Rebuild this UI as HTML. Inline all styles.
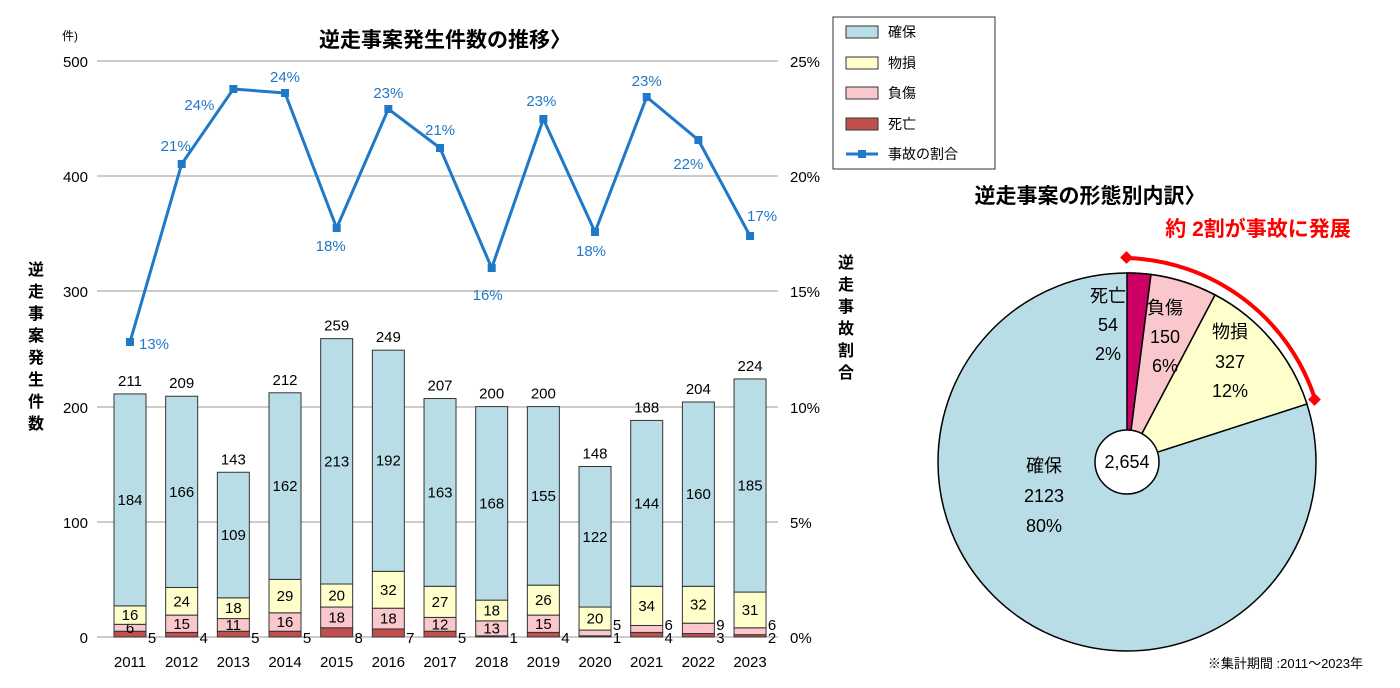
<!DOCTYPE html>
<html><head><meta charset="utf-8"><style>
html,body{margin:0;padding:0;background:#fff;}
svg{display:block;font-family:"Liberation Sans","Noto Sans CJK JP",sans-serif;}
</style></head><body>
<svg id="sv" width="1400" height="688" viewBox="0 0 1400 688" xmlns="http://www.w3.org/2000/svg">
<rect width="1400" height="688" fill="#fff"/>
<text x="445" y="47" font-size="21" font-weight="bold" text-anchor="middle" fill="#000">逆走事案発生件数の推移〉</text>
<text x="62" y="40" font-size="12" fill="#000">件)</text>
<g stroke="#999" stroke-width="1">
<line x1="97" y1="61" x2="778" y2="61"/>
<line x1="97" y1="176" x2="778" y2="176"/>
<line x1="97" y1="291" x2="778" y2="291"/>
<line x1="97" y1="407" x2="778" y2="407"/>
<line x1="97" y1="522" x2="778" y2="522"/>
<line x1="97" y1="637" x2="778" y2="637"/>
</g>
<g font-size="15" fill="#000" text-anchor="end">
<text x="88" y="67">500</text><text x="88" y="182">400</text><text x="88" y="297">300</text>
<text x="88" y="413">200</text><text x="88" y="528">100</text><text x="88" y="643">0</text>
</g>
<g font-size="15" fill="#000">
<text x="790" y="67">25%</text><text x="790" y="182">20%</text><text x="790" y="297">15%</text>
<text x="790" y="413">10%</text><text x="790" y="528">5%</text><text x="790" y="643">0%</text>
</g>
<g font-size="16" font-weight="bold" fill="#000" text-anchor="middle">
<text x="36" y="275">逆</text><text x="36" y="297">走</text><text x="36" y="319">事</text><text x="36" y="341">案</text><text x="36" y="363">発</text><text x="36" y="385">生</text><text x="36" y="407">件</text><text x="36" y="429">数</text>
<text x="846" y="268">逆</text><text x="846" y="290">走</text><text x="846" y="312">事</text><text x="846" y="334">故</text><text x="846" y="356">割</text><text x="846" y="378">合</text>
</g>
<g id="bars"></g>
<polyline id="ln" fill="none" stroke="#1f78c8" stroke-width="3"/>
<g id="pts"></g>
<rect x="833" y="17" width="162" height="152" fill="#fff" stroke="#333"/>
<g font-size="14" fill="#000">
<rect x="846" y="26" width="32" height="12" fill="#b8dde6" stroke="#333"/><text x="888" y="37">確保</text>
<rect x="846" y="57" width="32" height="12" fill="#ffffcc" stroke="#333"/><text x="888" y="68">物損</text>
<rect x="846" y="87" width="32" height="12" fill="#f9c7cc" stroke="#333"/><text x="888" y="98">負傷</text>
<rect x="846" y="118" width="32" height="12" fill="#c0504d" stroke="#333"/><text x="888" y="129">死亡</text>
<line x1="846" y1="154" x2="878" y2="154" stroke="#1f78c8" stroke-width="3"/><rect x="858" y="150" width="8" height="8" fill="#1f78c8"/><text x="888" y="159">事故の割合</text>
</g>
<text x="1090" y="203" font-size="21" font-weight="bold" text-anchor="middle" fill="#000">逆走事案の形態別内訳〉</text>
<text x="1258" y="236" font-size="21" font-weight="bold" text-anchor="middle" fill="#ff0000">約 2割が事故に発展</text>
<g stroke="#000" stroke-width="1.5">
<circle cx="1127" cy="462" r="189" fill="#b8dde6"/>
<path d="M1127,462 L1127,273 A189,189 0 0 1 1151,274.5 Z" fill="#cc0066"/>
<path d="M1127,462 L1151,274.5 A189,189 0 0 1 1215,295 Z" fill="#f9c7cc"/>
<path d="M1127,462 L1215,295 A189,189 0 0 1 1307,404 Z" fill="#ffffcc"/>
<circle cx="1127" cy="462" r="32" fill="#fff"/>
</g>
<path d="M1127,258 A204,204 0 0 1 1315,399" fill="none" stroke="#ff0000" stroke-width="4"/>
<rect x="1122" y="253" width="9" height="9" fill="#ff0000" transform="rotate(45 1126.5 257.5)"/>
<rect x="1310" y="395" width="9" height="9" fill="#ff0000" transform="rotate(45 1314.5 399.5)"/>
<g font-size="18" fill="#000" text-anchor="middle">
<text x="1108" y="302">死亡</text><text x="1108" y="331">54</text><text x="1108" y="360">2%</text>
<text x="1165" y="314">負傷</text><text x="1165" y="343">150</text><text x="1165" y="372">6%</text>
<text x="1230" y="338">物損</text><text x="1230" y="368">327</text><text x="1230" y="397">12%</text>
<text x="1044" y="472">確保</text><text x="1044" y="502">2123</text><text x="1044" y="532">80%</text>
<text x="1127" y="468">2,654</text>
</g>
<text x="1363" y="668" font-size="13" text-anchor="end" fill="#000">※集計期間 :2011～2023年</text>
<script>
(function(){
var NS="http://www.w3.org/2000/svg";
function el(parent,tag,attrs,txt){var e=document.createElementNS(NS,tag);for(var a in attrs)e.setAttribute(a,attrs[a]);if(txt!==undefined)e.textContent=txt;parent.appendChild(e);return e;}
var d=[[2011,5,6,16,184],[2012,4,15,24,166],[2013,5,11,18,109],[2014,5,16,29,162],[2015,8,18,20,213],[2016,7,18,32,192],[2017,5,12,27,163],[2018,1,13,18,168],[2019,4,15,26,155],[2020,1,5,20,122],[2021,4,6,34,144],[2022,3,9,32,160],[2023,2,6,31,185]];
var cols=["#c0504d","#f9c7cc","#ffffcc","#b8dde6"];
var ly=[342,164,89,93,228,109,148,268,119,232,97,140,236];
var lp=["13%","21%","24%","24%","18%","23%","21%","16%","23%","18%","23%","22%","17%"];
var lo=[[24,2],[-6,-18],[-34,16],[0,-16],[-6,18],[0,-16],[0,-18],[-4,27],[-2,-18],[-4,19],[0,-16],[-10,24],[12,-20]];
var s=1.152,g=document.getElementById("bars"),pg=document.getElementById("pts"),pl=[];
for(var i=0;i<13;i++){var cx=130+i*51.67,y=637,tot=0;
 for(var k=1;k<5;k++){var v=d[i][k],hh=v*s;y-=hh;tot+=v;
  el(g,"rect",{x:cx-16,y:y,width:32,height:hh,fill:cols[k-1],stroke:"#333","stroke-width":1});
  var big=(k==1)?false:(k==2?(v>=10||i==0):true);
  var ta={"font-size":15,"text-anchor":"middle",fill:"#000"};
  if(big){ta.x=cx;ta.y=y+hh/2+5;}
  else if(k==1){ta.x=cx+22;ta.y=643;}
  else {ta.x=cx+22;ta.y=630;}
  el(g,"text",ta,String(v));}
 el(g,"text",{x:cx,y:y-8,"font-size":15,"text-anchor":"middle",fill:"#000"},String(tot));
 el(g,"text",{x:cx,y:667,"font-size":15,"text-anchor":"middle",fill:"#000"},String(d[i][0]));
 pl.push(cx+","+ly[i]);
 el(pg,"rect",{x:cx-4,y:ly[i]-4,width:8,height:8,fill:"#1f78c8"});
 el(pg,"text",{x:cx+lo[i][0],y:ly[i]+lo[i][1]+5,"font-size":15,fill:"#1f78c8","text-anchor":"middle"},lp[i]);}
document.getElementById("ln").setAttribute("points",pl.join(" "));
})();
</script>
</svg>
</body></html>
